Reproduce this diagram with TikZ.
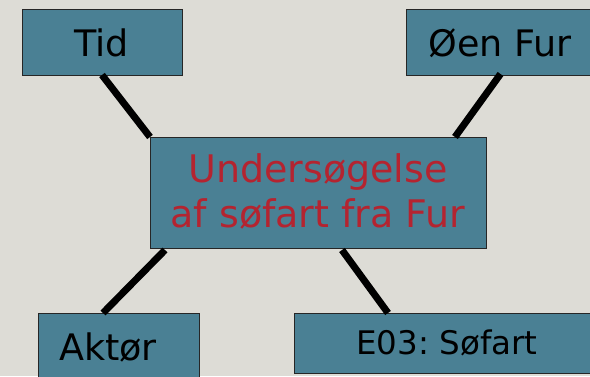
\documentclass[tikz,border=0pt]{standalone}
\usepackage{fontspec}
\setmainfont{DejaVu Sans}
\definecolor{bg}{RGB}{221,220,214}
\definecolor{teal}{RGB}{74,128,148}
\definecolor{redtxt}{RGB}{180,36,48}
\tikzset{
  box/.style={draw=black!85, line width=1.2pt, fill=teal, inner sep=0pt, anchor=north west},
  lbl/.style={inner sep=0pt, font=\fontsize{36.5}{42}\selectfont},
  conn/.style={line width=7pt, black},
}
\begin{document}
\begin{tikzpicture}[x=1pt,y=-1pt]
\fill[bg] (0,0) rectangle (590,376);
\useasboundingbox (0,0) rectangle (590,376);
\node[box, minimum width=160pt, minimum height=66pt] (tid) at (22,9) {};
\node[box, minimum width=200pt, minimum height=66pt] (oen) at (406,9) {};
\node[box, minimum width=336pt, minimum height=111pt] (ctr) at (150,137) {};
\node[box, minimum width=161pt, minimum height=80pt] (akt) at (37.5,313) {};
\node[box, minimum width=310pt, minimum height=60pt] (e03) at (294,313) {};
\node[lbl] (tidt) at (101.5,43) {Tid};
\node[lbl] (oent) at (500,43) {Øen Fur};
\node[lbl] (aktt) at (108,347) {Aktør};
\node[lbl, font=\fontsize{32.5}{38}\selectfont] (e03t) at (447,343) {E03:\ Søfart};
\node[lbl, text=redtxt, align=center, font=\fontsize{38}{45}\selectfont] (ctrt) at (318,191) {Undersøgelse\\af søfart fra Fur};
\coordinate (a1) at (102,75); \coordinate (a2) at (150,137);
\draw[conn] (a1) -- (a2);
\coordinate (b1) at (500.5,74); \coordinate (b2) at (455,137);
\draw[conn] (b1) -- (b2);
\coordinate (c1) at (165,250); \coordinate (c2) at (103,313);
\draw[conn] (c1) -- (c2);
\coordinate (d1) at (342,250); \coordinate (d2) at (388,313);
\draw[conn] (d1) -- (d2);
\end{tikzpicture}
\end{document}
